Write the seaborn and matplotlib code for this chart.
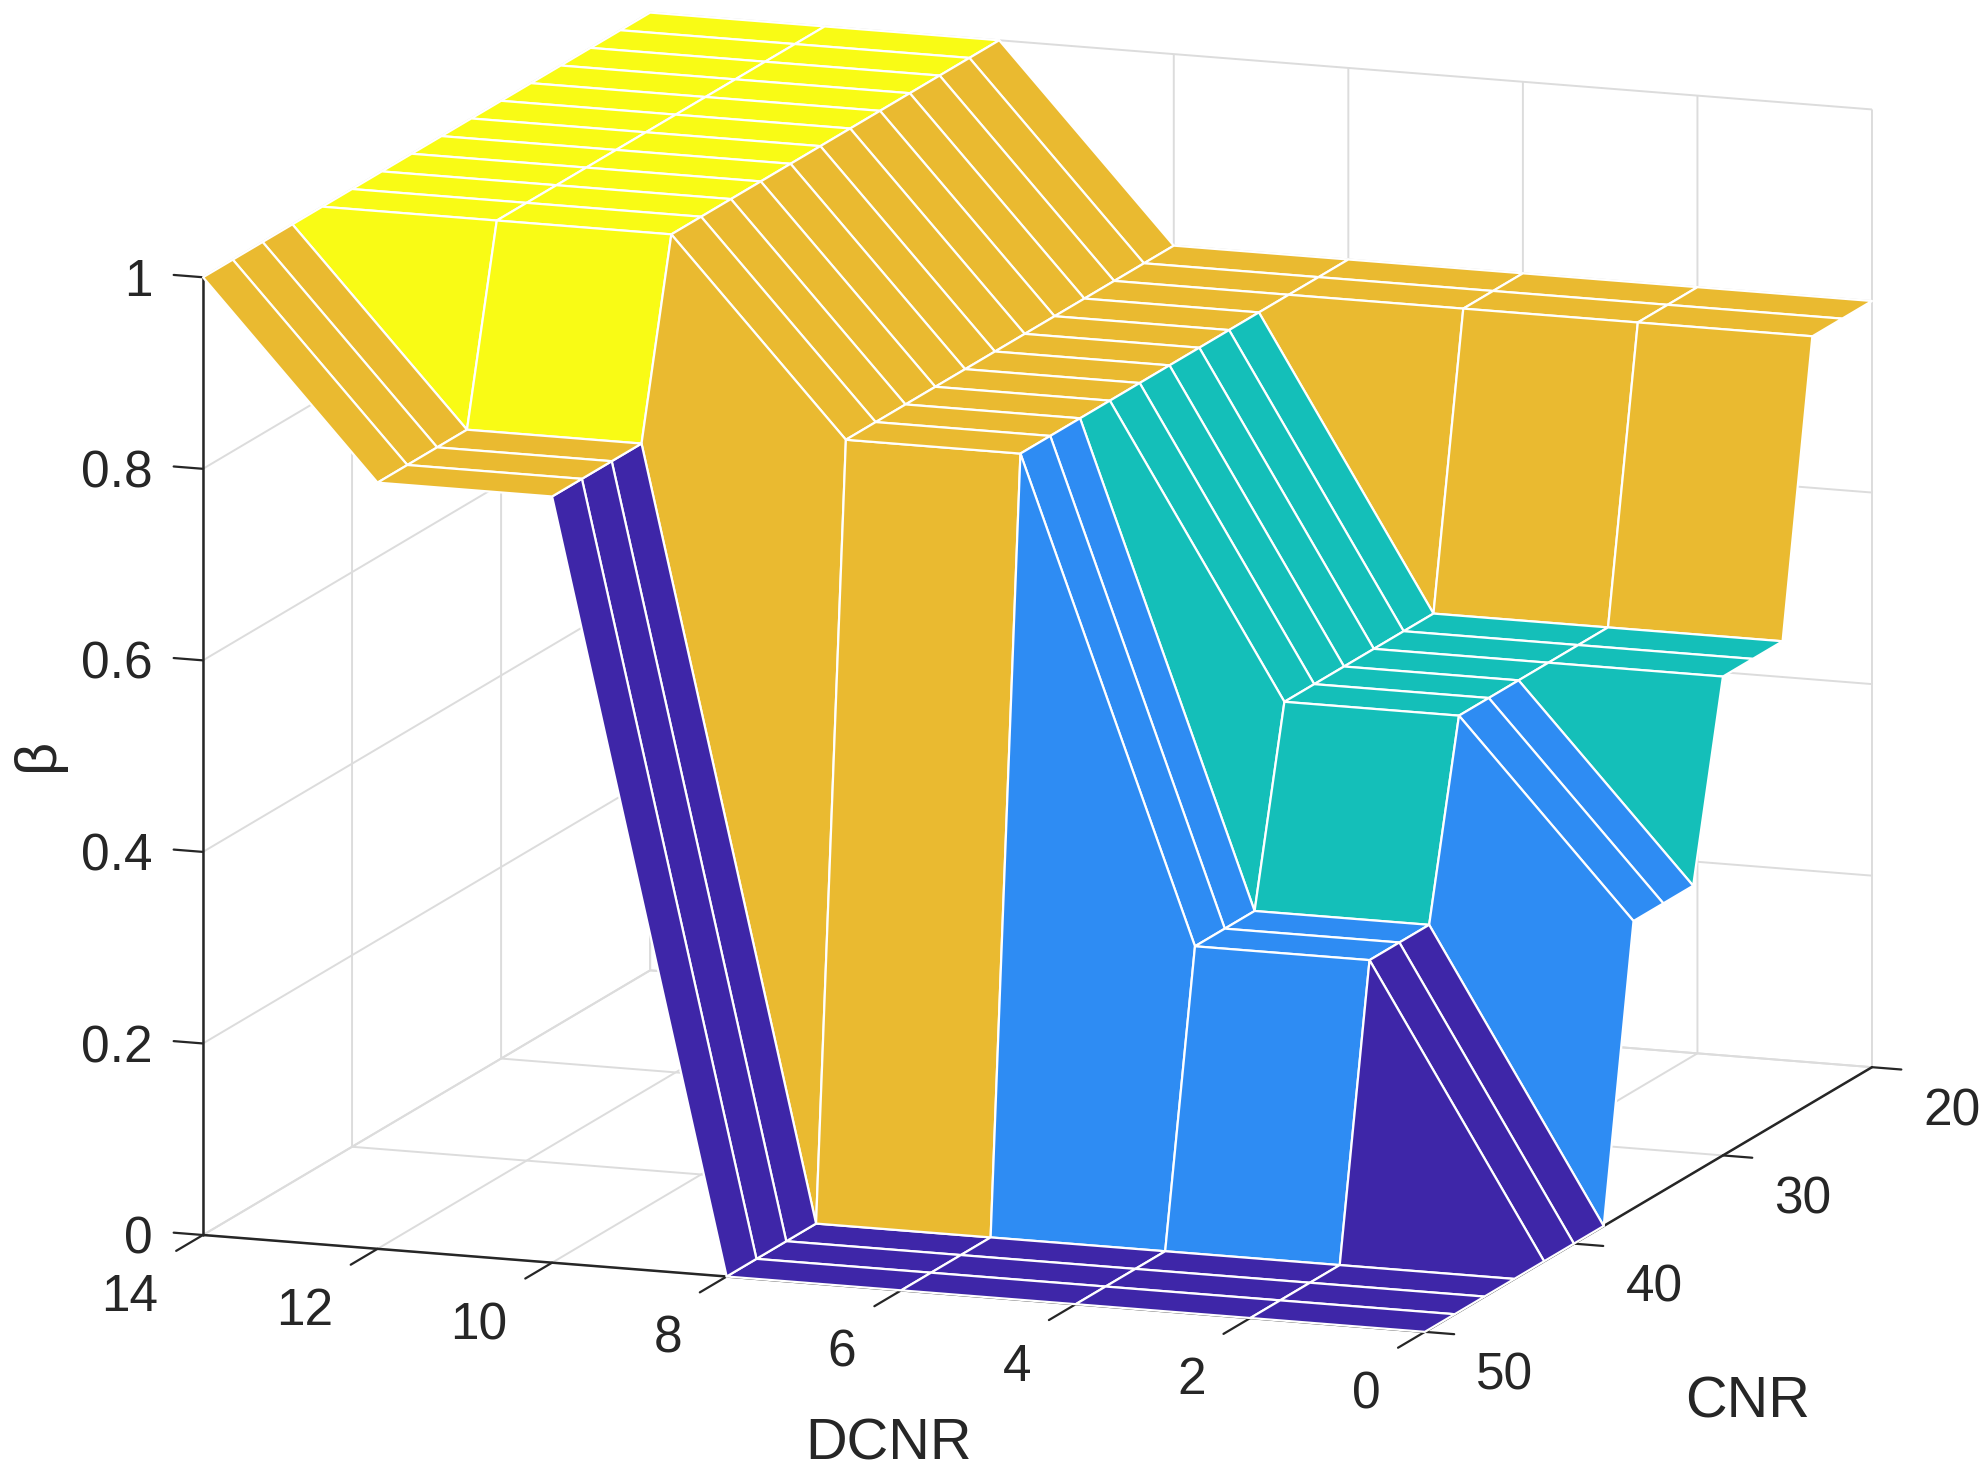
import numpy as np
import seaborn as sns
import matplotlib.pyplot as plt
from matplotlib.ticker import NullFormatter
from mpl_toolkits.mplot3d import proj3d

# grid of the surface
dcnr = [0, 2, 4, 6, 8, 10, 12, 14]
cnr = [20, 22, 24, 26, 28, 30, 32, 34, 36, 38, 40, 42, 44, 46, 48, 50]

# beta per DCNR value, CNR 20 -> 50
beta_d0 = [.8, .8, .8, .5, .5, .5, .3, .3, .3, 0, 0, 0, 0, 0, 0, 0]
beta_d2 = [.8, .8, .8, .5, .5, .5, .5, .5, .5, .3, .3, .3, 0, 0, 0, 0]
beta_d4 = [.8, .8, .8, .5, .5, .5, .5, .5, .5, .3, .3, .3, 0, 0, 0, 0]
beta_d6 = [.8, .8, .8, .8, .8, .8, .8, .8, .8, .8, .8, .8, 0, 0, 0, 0]
beta_d8 = [.8, .8, .8, .8, .8, .8, .8, .8, .8, .8, .8, .8, 0, 0, 0, 0]
beta_d10 = [1, 1, 1, 1, 1, 1, 1, 1, 1, 1, 1, 1, .8, .8, .8, .8]
beta_d12 = [1, 1, 1, 1, 1, 1, 1, 1, 1, 1, 1, 1, .8, .8, .8, .8]
beta_d14 = [1, 1, 1, 1, 1, 1, 1, 1, 1, 1, 1, 1, 1, 1, 1, 1]

levels = [0, .3, .5, .8, 1]
level_colors = ['#3e26a8', '#2e8cf3', '#14bfb9', '#eaba30', '#f9fb15']

W, H = 1986, 1481
ink = '#262626'
sns.set_theme(style='ticks', rc={
    'axes.edgecolor': ink, 'axes.linewidth': 1.8,
    'grid.color': '#dcdcdc', 'grid.linewidth': 1.4,
    'xtick.major.width': 1.6, 'ytick.major.width': 1.6,
    'text.color': ink, 'xtick.color': ink, 'ytick.color': ink,
})
plt.rcParams['font.family'] = ['Liberation Sans', 'DejaVu Sans']

X, Y = np.meshgrid(dcnr, cnr)
Z = np.array([beta_d0, beta_d2, beta_d4, beta_d6, beta_d8, beta_d10, beta_d12, beta_d14]).T

palette = sns.color_palette(level_colors)
facecolors = np.array([[palette[levels.index(v)] for v in row] for row in Z])

fig = plt.figure(figsize=(W / 100, H / 100), dpi=100)
ax = fig.add_subplot(projection='3d', proj_type='ortho')
ax.view_init(elev=12.51, azim=110.1)
ax.set_box_aspect((1, 1, .754))
ax.set_position([-0.00101, -0.15579, 1.01928, 1.36684])

surf = ax.plot_surface(X, Y, Z, facecolors=facecolors, rstride=1, cstride=1, shade=False, linewidth=1.6)
surf.set_edgecolor('white')

ax.set_xlim(0, 14, view_margin=0)
ax.set_ylim(20, 50, view_margin=0)
ax.set_zlim(0, 1, view_margin=0)
ax.set_xticks(dcnr)
ax.set_yticks([20, 30, 40, 50])
ax.set_zticks([0, .2, .4, .6, .8, 1])
ax.xaxis.set_major_formatter(NullFormatter())
ax.set_zticklabels(['0', '0.2', '0.4', '0.6', '0.8', '1'])
ax.tick_params(labelsize=37)
ax.tick_params(axis='x', labelbottom=False)
ax.tick_params(axis='y', pad=24)
ax.tick_params(axis='z', pad=15)
ax.zaxis.set_ticks_position('upper')
ax.zaxis._get_tickdir = lambda position: 0  # z ticks along DCNR, not CNR
plt.setp(ax.get_yticklabels(), ha='left', va='center')
plt.setp(ax.get_zticklabels(), ha='right', va='center')

for axis in (ax.xaxis, ax.yaxis, ax.zaxis):
    axis.set_pane_color((1, 1, 1, 0))
    axis.pane.set_edgecolor('#dcdcdc')
    axis._axinfo['tick']['outward_factor'] = 0
    axis._axinfo['tick']['inward_factor'] = .3
ax.xaxis._axinfo['tick']['inward_factor'] = .75
ax.zaxis._axinfo['tick']['inward_factor'] = 0
ax.zaxis._axinfo['tick']['outward_factor'] = .3

# DCNR tick labels sit off the tick direction in the original
fig.canvas.draw()
for d in dcnr:
    lx, ly, _ = proj3d.proj_transform(d, 53, -.038, ax.get_proj())
    ax.text2D(lx, ly, str(d), transform=ax.transData, fontsize=37, ha='right', va='center')

fig.text(889 / W, 1 - 1444 / H, 'DCNR', fontsize=41.5, ha='center', va='center')
fig.text(1748 / W, 1 - 1403 / H, 'CNR', fontsize=41.5, ha='center', va='center')
fig.text(38 / W, 1 - 754 / H, 'β', fontsize=41.5, rotation=90, ha='center', va='center')

fig.savefig('out.png', dpi=100)
